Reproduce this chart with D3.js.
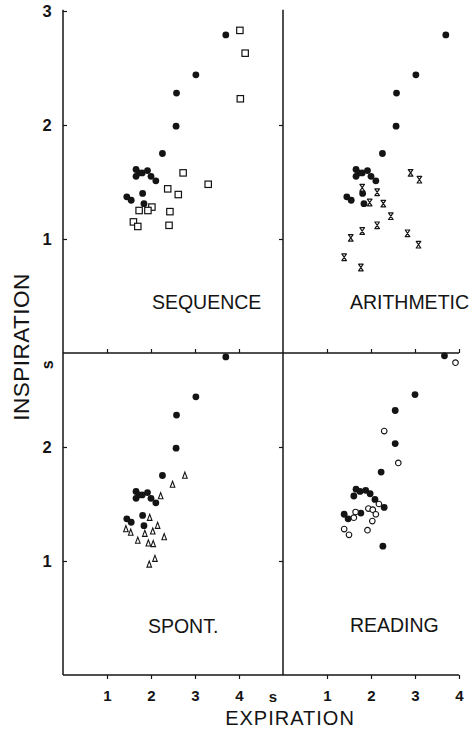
<!DOCTYPE html>
<html>
<head>
<meta charset="utf-8">
<script src="https://cdn.jsdelivr.net/npm/d3@7"></script>
<style>
	body { margin: 0; background: #fff; }
	svg { display: block; font-family: "Liberation Sans", Arial, sans-serif; }
</style>
</head>
<body>
<svg id="chart" width="475" height="738"></svg>
<script>
// breath durations in seconds: [expiration, inspiration]
// quiet breathing (filled dots), same set shown in sequence / arithmetic / spont.
const quiet = [[3.70,2.79],[3.02,2.44],[2.58,2.28],[2.57,1.99],[2.26,1.75],
	[1.66,1.61],[1.72,1.58],[1.80,1.58],[1.92,1.60],[1.66,1.55],[2.00,1.55],[2.11,1.51],
	[1.45,1.37],[1.55,1.34],[1.81,1.40],[1.84,1.31]];
// quiet breathing as printed in the reading panel
const quietReading = [[3.67,2.80],[3.00,2.46],[2.55,2.32],[2.55,2.03],[2.23,1.78],
	[1.66,1.63],[1.75,1.61],[1.88,1.62],[1.98,1.59],[1.61,1.57],[2.09,1.54],[2.30,1.47],
	[1.39,1.41],[1.48,1.37],[1.77,1.42],[2.27,1.13]];
const sequence = [[4.02,2.83],[4.14,2.63],[4.03,2.23],[2.73,1.58],[3.30,1.48],[2.38,1.44],
	[2.62,1.39],[2.02,1.28],[1.93,1.25],[1.73,1.25],[2.43,1.24],[1.60,1.15],[1.70,1.11],[2.41,1.12]];
const arithmetic = [[2.90,1.58],[3.10,1.52],[1.80,1.45],[2.14,1.41],[1.97,1.32],[2.28,1.31],
	[2.45,1.20],[2.14,1.12],[1.80,1.07],[1.54,1.01],[2.83,1.05],[3.08,0.95],[1.39,0.84],[1.77,0.75]];
const spont = [[2.77,1.75],[2.49,1.67],[2.22,1.57],[1.97,1.38],[2.15,1.31],[1.43,1.28],
	[1.54,1.25],[2.04,1.26],[1.86,1.24],[2.30,1.21],[1.70,1.18],[1.94,1.155],[2.05,1.15],
	[2.09,1.02],[1.96,0.97]];
const reading = [[3.92,2.74],[2.30,2.14],[2.62,1.86],[2.18,1.50],[1.94,1.46],[2.04,1.45],
	[2.11,1.41],[2.03,1.35],[1.65,1.43],[1.61,1.38],[1.39,1.28],[1.50,1.23],[1.92,1.27]];

const xTicks = [1, 2, 3, 4];
const yTicksTop = [1, 2, 3];
const yTicksBottom = [1, 2];

const ink = "#141414";
const svg = d3.select("#chart");

const xLeft = d3.scaleLinear().domain([0, 5]).range([63, 283]);
const xRight = d3.scaleLinear().domain([0, 4]).range([283, 459]);
const yTop = d3.scaleLinear().domain([0, 3]).range([353, 11]);
const yBottom = d3.scaleLinear().domain([0, 3]).range([675, 333]);

// marker drawers, g is translated to the point
const markers = {
	dot: function(g){ g.append("circle").attr("r", 3.4).attr("fill", ink); },
	square: function(g){
		g.append("rect").attr("x", -3.2).attr("y", -3.2).attr("width", 6.4).attr("height", 6.4)
			.attr("fill", "#fff").attr("stroke", ink).attr("stroke-width", 1.2);
	},
	hourglass: function(g){
		g.append("path").attr("d", "M-2.3,-3.3H2.3L-2.3,3.3H2.3Z")
			.attr("fill", "#fff").attr("stroke", ink).attr("stroke-width", 1.2).attr("stroke-linejoin", "round");
	},
	triangle: function(g){
		g.append("path").attr("d", "M0,-3.4L2.3,2.7H-2.3Z")
			.attr("fill", "#fff").attr("stroke", ink).attr("stroke-width", 1.1);
	},
	ring: function(g){
		g.append("circle").attr("r", 2.8).attr("fill", "#fff").attr("stroke", ink).attr("stroke-width", 1.1);
	}
};

const panels = [
	{name: "SEQUENCE", x: xLeft, y: yTop, filled: quiet, open: sequence, shape: "square", label: [2.02, 0.386]},
	{name: "ARITHMETIC", x: xRight, y: yTop, filled: quiet, open: arithmetic, shape: "hourglass", label: [1.52, 0.386]},
	{name: "SPONT.", x: xLeft, y: yBottom, filled: quiet, open: spont, shape: "triangle", label: [1.93, 0.368]},
	{name: "READING", x: xRight, y: yBottom, filled: quietReading, open: reading, shape: "ring", label: [1.52, 0.377]}
];

panels.forEach(function(p){
	const g = svg.append("g").attr("class", "panel");

	function plot(data, shape){
		g.append("g").selectAll("g").data(data).enter().append("g")
			.attr("transform", function(d){ return "translate(" + [p.x(d[0]), p.y(d[1])] + ")"; })
			.each(function(){ markers[shape](d3.select(this)); });
	}
	plot(p.filled, "dot");
	plot(p.open, p.shape);

	g.append("text")
		.attr("x", p.x(p.label[0])).attr("y", p.y(p.label[1]))
		.attr("font-size", 19.5).attr("fill", ink)
		.text(p.name);
});

// frame lines
const frame = [
	[[xLeft(0), yTop(3.01)], [xLeft(0), yBottom(0)]],
	[[xLeft(5), yTop(3.01)], [xLeft(5), yBottom(0)]],
	[[xLeft(0), yTop(0)], [xRight(4), yTop(0)]],
	[[xLeft(0), yBottom(0)], [xRight(4), yBottom(0)]]
];
svg.append("g").selectAll("path").data(frame).enter().append("path")
	.attr("d", d3.line())
	.attr("stroke", ink).attr("stroke-width", 1.5).attr("fill", "none");

function clean(g){
	g.select(".domain").remove();
	g.selectAll("line").attr("stroke", ink).attr("stroke-width", 1.2);
	g.selectAll("text").attr("fill", ink).attr("font-weight", "bold").attr("font-family", "\"Liberation Sans\", Arial, sans-serif");
}

// x ticks pointing up along the middle line
[xLeft, xRight].forEach(function(sc){
	svg.append("g").attr("transform", "translate(0," + yTop(0) + ")")
		.call(d3.axisBottom(sc).tickValues(xTicks).tickSize(-4).tickFormat(""))
		.call(clean);
	svg.append("g").attr("class", "xAxis").attr("transform", "translate(0," + yBottom(0) + ")")
		.call(d3.axisBottom(sc).tickValues(xTicks).tickSize(4).tickPadding(11).tickFormat(d3.format("d")))
		.call(clean)
		.selectAll("text").attr("font-size", 15);
});

// y ticks: labelled on the left, plain on the divider
[[yTop, yTicksTop], [yBottom, yTicksBottom]].forEach(function(a){
	svg.append("g").attr("class", "yAxis").attr("transform", "translate(" + xLeft(0) + ",0)")
		.call(d3.axisLeft(a[0]).tickValues(a[1]).tickSize(-4).tickPadding(11).tickFormat(d3.format("d")))
		.call(clean)
		.selectAll("text").attr("font-size", 16.5).attr("text-anchor", "middle").attr("x", -16);
	svg.append("g").attr("transform", "translate(" + xLeft(5) + ",0)")
		.call(d3.axisLeft(a[0]).tickValues(a[1].filter(function(d){ return d < 3; })).tickSize(4).tickFormat(""))
		.call(clean);
});

// unit labels
svg.append("text")
	.attr("transform", "translate(" + [xLeft(0) - 16, yBottom(2.72)] + ") rotate(-90)")
	.attr("text-anchor", "middle").attr("dy", "0.35em")
	.attr("font-size", 16).attr("font-weight", "bold").attr("fill", ink)
	.text("s");
svg.append("text")
	.attr("x", xLeft(4.77)).attr("y", yBottom(0) + 27)
	.attr("text-anchor", "middle")
	.attr("font-size", 15).attr("font-weight", "bold").attr("fill", ink)
	.text("s");

// axis titles
svg.append("text")
	.attr("transform", "translate(" + [29, 347] + ") rotate(-90)")
	.attr("text-anchor", "middle")
	.attr("font-size", 22.5).attr("letter-spacing", 0.5).attr("fill", ink)
	.text("INSPIRATION");
svg.append("text")
	.attr("x", 290).attr("y", 725)
	.attr("text-anchor", "middle")
	.attr("font-size", 20).attr("letter-spacing", 1).attr("fill", ink)
	.text("EXPIRATION");
</script>
</body>
</html>
